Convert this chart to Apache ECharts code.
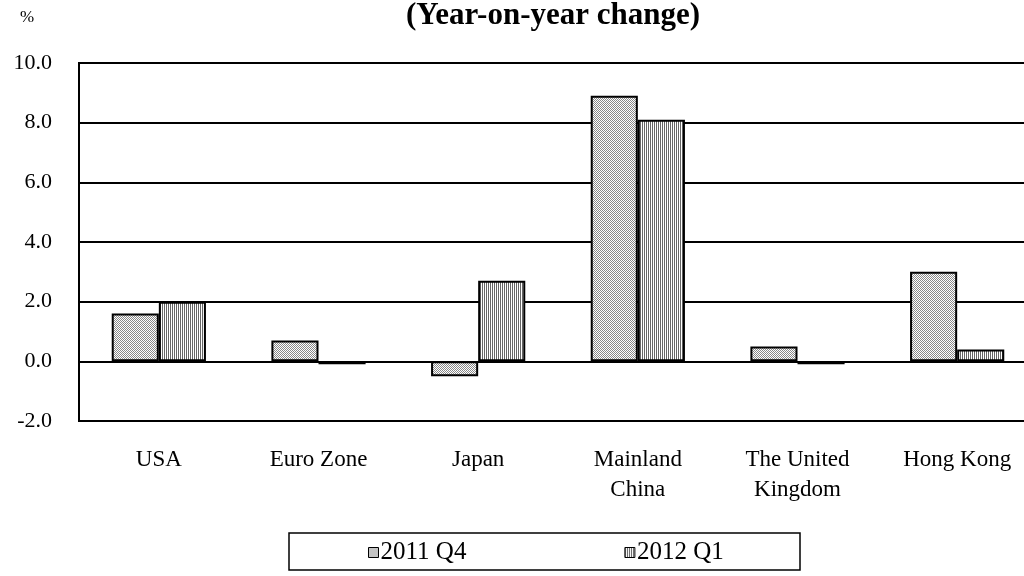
<!DOCTYPE html>
<html>
<head>
<meta charset="utf-8">
<script src="https://cdn.jsdelivr.net/npm/echarts@6/dist/echarts.min.js"></script>
<style>
  html, body { margin: 0; padding: 0; background: #fff; }
  #chart { width: 1024px; height: 576px; }
</style>
</head>
<body>
<div id="chart"></div>
<script>
const categories = ['USA', 'Euro Zone', 'Japan', 'Mainland\nChina', 'The United\nKingdom', 'Hong Kong'];
const seriesNames = ['2011 Q4', '2012 Q1'];
const q4_2011 = [1.6, 0.7, -0.5, 8.9, 0.5, 3.0];
const q1_2012 = [2.0, -0.1, 2.7, 8.1, -0.1, 0.4];
const yTicks = { min: -2, max: 10, interval: 2 };

const FONT = '"Liberation Serif", "Times New Roman", serif';

// small canvas fills to mimic the hatched bars
function makePattern(kind) {
  const c = document.createElement('canvas');
  c.width = 2; c.height = 2;
  const ctx = c.getContext('2d');
  ctx.fillStyle = '#fff';
  ctx.fillRect(0, 0, 2, 2);
  if (kind === 'dots') {
    ctx.fillStyle = '#888';
    ctx.fillRect(0, 0, 1, 1);
    ctx.fillRect(1, 1, 1, 1);
  } else {
    ctx.fillStyle = '#666';
    ctx.fillRect(0, 0, 1, 2);
  }
  return { image: c, repeat: 'repeat' };
}

const chart = echarts.init(document.getElementById('chart'), null, { renderer: 'canvas' });

const barStyle = fill => ({
  color: fill,
  borderColor: '#000',
  borderWidth: 2
});

chart.setOption({
  animation: false,
  textStyle: { fontFamily: FONT, color: '#000' },
  title: {
    text: '(Year-on-year change)',
    left: 548,
    textAlign: 'center',
    top: -5,
    textStyle: { fontFamily: FONT, fontWeight: 'bold', fontSize: 31, color: '#000' }
  },
  graphic: [
    {
      type: 'text',
      left: 20,
      top: 9,
      style: { text: '%', font: '17px ' + FONT, fill: '#000' }
    },
    {
      // legend frame
      type: 'rect',
      shape: { x: 289, y: 533, width: 511, height: 37 },
      style: { fill: 'none', stroke: '#000', lineWidth: 1.5 }
    }
  ],
  legend: {
    left: 368,
    top: 540,
    padding: 0,
    itemGap: 158,
    itemWidth: 10,
    itemHeight: 10,
    icon: 'rect',
    data: seriesNames,
    itemStyle: { borderColor: '#000', borderWidth: 1 },
    textStyle: { fontFamily: FONT, fontSize: 25, color: '#000', padding: [0, 0, 0, -3] }
  },
  grid: {
    // plot runs past the right edge of the picture, as in the source
    left: 79,
    width: 958,
    top: 63,
    bottom: 155,
    outerBoundsMode: 'none',
    containLabel: false,
    show: true,
    borderColor: '#000',
    borderWidth: 2
  },
  xAxis: {
    type: 'category',
    data: categories,
    axisLine: { show: false },
    axisTick: { show: false },
    axisLabel: {
      margin: 24,
      fontFamily: FONT,
      fontSize: 23,
      lineHeight: 30,
      color: '#000',
      interval: 0
    }
  },
  yAxis: {
    type: 'value',
    min: yTicks.min,
    max: yTicks.max,
    interval: yTicks.interval,
    axisLine: { show: false },
    axisTick: { show: false },
    splitLine: { lineStyle: { color: '#000', width: 2 } },
    axisLabel: {
      margin: 27,
      fontFamily: FONT,
      fontSize: 22,
      color: '#000',
      formatter: v => v.toFixed(1)
    }
  },
  series: [
    {
      name: seriesNames[0],
      type: 'bar',
      data: q4_2011,
      barGap: '0%',
      barCategoryGap: '41%',
      itemStyle: barStyle(makePattern('dots'))
    },
    {
      name: seriesNames[1],
      type: 'bar',
      data: q1_2012,
      itemStyle: barStyle(makePattern('lines'))
    }
  ]
});
</script>
</body>
</html>
